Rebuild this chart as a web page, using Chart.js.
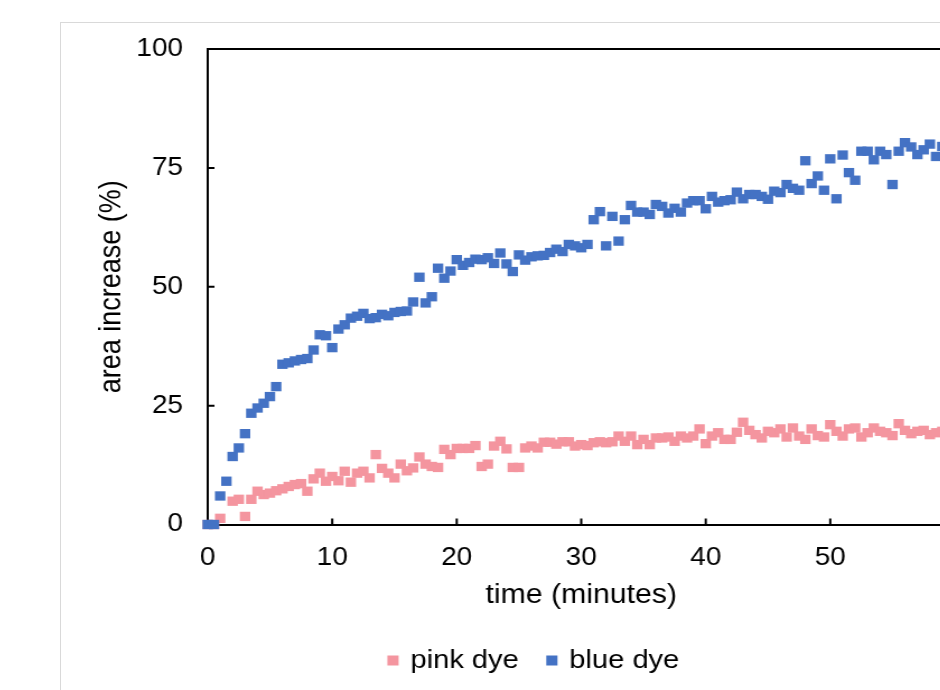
<!DOCTYPE html>
<html>
<head>
  <title>Dye spreading</title>
  <script src="https://cdn.jsdelivr.net/npm/chart.js@4"></script>
  <style>
    html, body {
      margin: 0;
      padding: 0;
      background: #fff;
      overflow: hidden;
      width: 940px;
      height: 690px;
    }

    #frame {
      position: absolute;
      left: 60px;
      top: 22px;
      width: 1000px;
      height: 720px;
      border: 1px solid #d9d9d9;
      background: #fff;
      overflow: hidden;
    }

    /* chart is drawn a bit wider than tall */
    #inner {
      width: 846px;
      height: 680px;
      transform: scaleX(1.12);
      transform-origin: 0 0;
    }
  </style>
</head>
<body>
<div id="frame">
  <div id="inner">
    <canvas id="dyeChart" width="846" height="680"></canvas>
  </div>
</div>

<script>
  // time of each reading, minutes
  const times = [
    0, 0.5, 1, 1.5, 2, 2.5, 3, 3.5, 4, 4.5,
    5, 5.5, 6, 6.5, 7, 7.5, 8, 8.5, 9, 9.5,
    10, 10.5, 11, 11.5, 12, 12.5, 13, 13.5, 14, 14.5,
    15, 15.5, 16, 16.5, 17, 17.5, 18, 18.5, 19, 19.5,
    20, 20.5, 21, 21.5, 22, 22.5, 23, 23.5, 24, 24.5,
    25, 25.5, 26, 26.5, 27, 27.5, 28, 28.5, 29, 29.5,
    30, 30.5, 31, 31.5, 32, 32.5, 33, 33.5, 34, 34.5,
    35, 35.5, 36, 36.5, 37, 37.5, 38, 38.5, 39, 39.5,
    40, 40.5, 41, 41.5, 42, 42.5, 43, 43.5, 44, 44.5,
    45, 45.5, 46, 46.5, 47, 47.5, 48, 48.5, 49, 49.5,
    50, 50.5, 51, 51.5, 52, 52.5, 53, 53.5, 54, 54.5,
    55, 55.5, 56, 56.5, 57, 57.5, 58, 58.5, 59
  ];

  // area increase, %
  const pinkDye = [
    0, 0, 1.3, null, 4.9, 5.3, 1.7, 5.3, 7, 6.3,
    6.6, 7.1, 7.5, 8, 8.4, 8.6, 7, 9.6, 10.8, 9.1,
    10.1, 9.2, 11.2, 8.9, 10.8, 11.2, 9.8, 14.7, 11.8, 10.8,
    9.8, 12.7, 11.3, 11.9, 14.2, 12.7, 12.2, 12, 15.8, 14.7,
    16, 16, 16, 16.6, 12.2, 12.7, 16.5, 17.5, 15.9, 12,
    12, 16.1, 16.5, 16.1, 17.3, 17.3, 16.9, 17.4, 17.4, 16.5,
    16.8, 16.6, 17.2, 17.4, 17.2, 17.4, 18.6, 17.5, 18.6, 16.8,
    17.9, 16.8, 18.2, 18.2, 18.4, 17.5, 18.6, 18.2, 18.6, 20.1,
    17, 18.6, 19.3, 17.9, 17.9, 19.4, 21.5, 19.8, 18.9, 18.2,
    19.6, 19.3, 20.1, 18.4, 20.3, 18.6, 17.9, 20.1, 18.7, 18.4,
    21, 19.6, 18.6, 20.1, 20.3, 18.4, 19.3, 20.3, 19.6, 19.3,
    18.7, 21.2, 19.8, 19.1, 19.6, 19.8, 18.9, 19.3, 19.6
  ];

  const blueDye = [
    0, 0, 6, 9.1, 14.3, 16.1, 19.1, 23.4, 24.5, 25.5,
    26.9, 29, 33.7, 34, 34.4, 34.7, 34.9, 36.7, 39.9, 39.7,
    37.2, 41.1, 42, 43.4, 43.8, 44.4, 43.3, 43.5, 44.2, 43.9,
    44.6, 44.8, 44.9, 46.8, 52, 46.6, 47.9, 53.9, 51.8, 53.3,
    55.7, 54.5, 55.1, 55.8, 55.7, 56.1, 54.9, 57.1, 54.8, 53.2,
    56.7, 55.6, 56.3, 56.5, 56.6, 57.2, 57.9, 57.4, 58.9, 58.6,
    58.2, 58.9, 64.1, 65.8, 58.6, 64.8, 59.6, 64.1, 67.1, 65.7,
    65.7, 65.2, 67.3, 66.9, 65.5, 66.5, 65.7, 67.6, 68.1, 68.1,
    66.4, 69, 67.8, 68.1, 68.3, 69.9, 68.5, 69.4, 69.4, 69,
    68.4, 70.1, 69.8, 71.5, 70.7, 70.3, 76.5, 71.7, 73.3, 70.3,
    76.9, 68.5, 77.7, 74, 72.4, 78.5, 78.5, 76.7, 78.5, 77.8,
    71.5, 78.5, 80.3, 79.4, 77.8, 78.8, 80, 77.4, 79.5
  ];

  const xTicks = [0, 10, 20, 30, 40, 50, 60];
  const yTicks = [0, 25, 50, 75, 100];

  const PINK = '#f4959f';
  const BLUE = '#4472c4';

  Chart.defaults.font.family = '"Liberation Sans", Arial, sans-serif';
  Chart.defaults.color = '#000';

  function toPoints(values) {
    return times.map((t, i) => ({x: t, y: values[i]}));
  }

  // small tick marks pointing into the plot, plus the top/right edges of the box
  const innerTicks = {
    id: 'innerTicks',
    beforeDatasetsDraw(chart) {
      const {ctx, chartArea: a, scales: {x, y}} = chart;
      ctx.save();
      ctx.strokeStyle = '#000';
      ctx.lineWidth = 2;
      ctx.beginPath();
      ctx.moveTo(a.left, a.top);
      ctx.lineTo(a.right, a.top);
      ctx.lineTo(a.right, a.bottom);
      x.ticks.forEach(t => {
        const px = x.getPixelForValue(t.value);
        ctx.moveTo(px, a.bottom);
        ctx.lineTo(px, a.bottom - 6);
      });
      y.ticks.forEach(t => {
        const py = y.getPixelForValue(t.value);
        ctx.moveTo(a.left, py);
        ctx.lineTo(a.left + 6, py);
      });
      ctx.stroke();
      ctx.restore();
    }
  };

  new Chart(document.getElementById('dyeChart'), {
    type: 'scatter',
    data: {
      datasets: [
        {
          label: 'pink dye',
          data: toPoints(pinkDye),
          backgroundColor: PINK,
          borderColor: PINK,
          borderWidth: 0,
          pointStyle: 'rect',
          pointRadius: 6.6,
          pointHoverRadius: 6.6,
          order: 1,
          clip: false
        },
        {
          label: 'blue dye',
          data: toPoints(blueDye),
          backgroundColor: BLUE,
          borderColor: BLUE,
          borderWidth: 0,
          pointStyle: 'rect',
          pointRadius: 6.6,
          pointHoverRadius: 6.6,
          order: 0,
          clip: false
        }
      ]
    },
    options: {
      responsive: false,
      animation: false,
      devicePixelRatio: 1,
      layout: {
        padding: {left: 0, top: 26, right: 0, bottom: 19.5}
      },
      scales: {
        x: {
          type: 'linear',
          min: 0,
          max: 60,
          afterBuildTicks: s => { s.ticks = xTicks.map(v => ({value: v})); },
          afterFit: s => { s.height = 96; },
          grid: {display: false, drawTicks: false},
          border: {display: true, color: '#000', width: 2},
          ticks: {
            padding: 19,
            color: '#000',
            font: {size: 25}
          },
          title: {
            display: true,
            text: 'time (minutes)',
            color: '#000',
            font: {size: 27},
            padding: {top: 0, bottom: 9}
          }
        },
        y: {
          type: 'linear',
          min: 0,
          max: 100,
          afterBuildTicks: s => { s.ticks = yTicks.map(v => ({value: v})); },
          afterFit: s => {
            s.width = 131;
            s.paddingTop = 0;
            s.paddingBottom = 0;
          },
          grid: {display: false, drawTicks: false},
          border: {display: true, color: '#000', width: 2},
          ticks: {
            padding: 22,
            color: '#000',
            font: {size: 25}
          },
          title: {
            display: true,
            text: 'area increase (%)',
            color: '#000',
            font: {size: 27},
            padding: {top: 29, bottom: 0}
          }
        },
        // empty strip on the right so the plot stops short of the edge
        // while the legend stays centred on the whole chart
        yRight: {
          type: 'linear',
          position: 'right',
          afterFit: s => {
            s.width = 48;
            s.paddingTop = 0;
            s.paddingBottom = 0;
          },
          grid: {display: false, drawTicks: false},
          border: {display: false},
          ticks: {display: false}
        }
      },
      plugins: {
        legend: {
          position: 'bottom',
          labels: {
            usePointStyle: true,
            boxWidth: 5,
            boxHeight: 10,
            padding: 27,
            color: '#000',
            font: {size: 26},
            sort: (a, b) => a.datasetIndex - b.datasetIndex
          }
        },
        tooltip: {enabled: false}
      }
    },
    plugins: [innerTicks]
  });
</script>
</body>
</html>
